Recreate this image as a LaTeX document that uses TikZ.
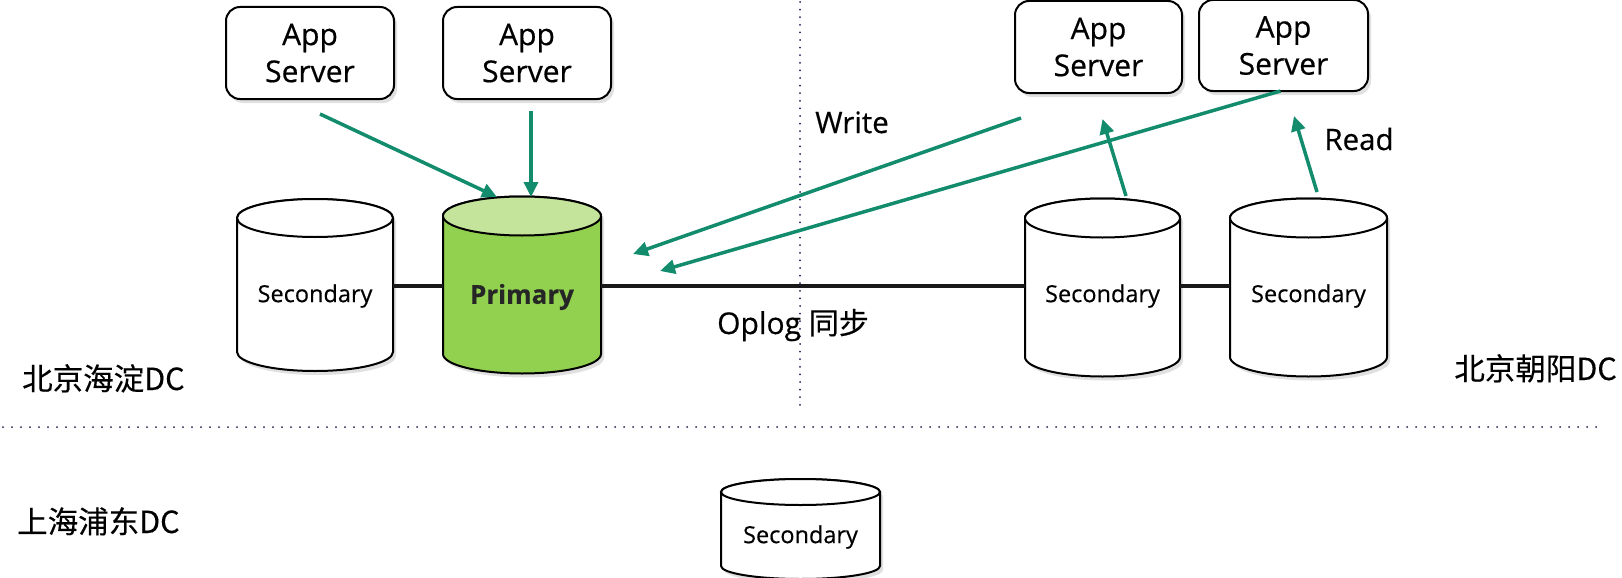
\documentclass[tikz,border=0pt]{standalone}
\usepackage{fontspec}
\setmainfont{Open Sans}[FakeBold=0.5]
\newfontfamily\cjk{Noto Sans CJK SC}[FakeBold=0.3]
\usetikzlibrary{arrows.meta,shadows}
\definecolor{arrgreen}{RGB}{18,140,108}
\definecolor{primbody}{RGB}{146,208,80}
\definecolor{primtop}{RGB}{196,228,155}
\definecolor{dotc}{RGB}{30,30,80}
\definecolor{linec}{RGB}{25,25,25}
% silhouette of a vertical cylinder: cx, y of top ellipse centre, y of bottom ellipse centre, rx, ry
\newcommand\cylpath[5]{({#1-#4},#2) -- ({#1-#4},#3) .. controls ({#1-#4},{#3+0.5523*#5}) and ({#1-0.5523*#4},{#3+#5}) .. (#1,{#3+#5}) .. controls ({#1+0.5523*#4},{#3+#5}) and ({#1+#4},{#3+0.5523*#5}) .. ({#1+#4},#3) -- ({#1+#4},#2) .. controls ({#1+#4},{#2-0.5523*#5}) and ({#1+0.5523*#4},{#2-#5}) .. (#1,{#2-#5}) .. controls ({#1-0.5523*#4},{#2-#5}) and ({#1-#4},{#2-0.5523*#5}) .. ({#1-#4},#2) -- cycle}
\newcommand\dbshape[7]{%
  \fill[black,opacity=.12,shift={(3,4)}] \cylpath{#1}{#2}{#3}{#4}{#5};
  \filldraw[fill=#6,draw=black,line width=2pt] \cylpath{#1}{#2}{#3}{#4}{#5};
  \filldraw[fill=#7,draw=black,line width=2pt] (#1,#2) ellipse [x radius=#4, y radius=#5];}
\begin{document}
\begin{tikzpicture}[x=1pt,y=-1pt,
  appbox/.style={draw=black, fill=white, line width=2pt, rounded corners=14pt,
    minimum width=168pt, minimum height=92pt, align=center, inner sep=0pt,
    font=\fontsize{30}{37}\selectfont,
    drop shadow={shadow xshift=3pt, shadow yshift=-4pt, opacity=.12, fill=black}},
  cyltext/.style={inner sep=0pt, outer sep=0pt, font=\fontsize{23.5}{28}\selectfont},
  lbl/.style={inner sep=0pt, font=\fontsize{29.5}{34}\selectfont},
  dclbl/.style={inner sep=0pt, font=\cjk\fontsize{30.5}{34}\selectfont},
  arr/.style={draw=arrgreen, line width=3.5pt, -{Triangle[length=15pt,width=14pt]}},
  oplog/.style={draw=linec, line width=3.5pt},
  dotline/.style={draw=dotc, line width=2pt, line cap=round}]
\useasboundingbox (0,0) rectangle (1622,578);

% dotted separators
\draw[dotline, dash pattern=on 0pt off 9pt] (3,427) -- (1598,427);
\draw[dotline, dash pattern=on 0pt off 7.6pt] (800,2) -- (800,405);

% App servers
\node[appbox] (app1) at (310,53) {App\\Server};
\node[appbox] (app2) at (527,53) {App\\Server};
\node[appbox, minimum width=167pt] (app3) at (1098.5,47) {App\\Server};
\node[appbox, minimum width=169pt, minimum height=91pt] (app4) at (1283.5,45.5) {App\\Server};

% cylinders
\dbshape{315}{218}{352}{78}{19}{white}{white}
\dbshape{522}{216}{354}{79}{19.5}{primbody}{primtop}
\dbshape{1102.5}{218}{357}{77.5}{19.5}{white}{white}
\dbshape{1308.5}{218}{357}{78.5}{19.5}{white}{white}
\dbshape{800.5}{492}{566}{79.5}{13}{white}{white}

\node[cyltext, minimum width=156pt] (sec1) at (315,296) {Secondary};
\node[cyltext, minimum width=158pt, font=\fontsize{26}{30}\selectfont\bfseries, text=black!85] (prim) at (522,297) {Primary};
\node[cyltext, minimum width=155pt] (sec3) at (1102.5,296) {Secondary};
\node[cyltext, minimum width=157pt] (sec4) at (1308.5,296) {Secondary};
\node[cyltext, minimum width=159pt] (sec5) at (800.5,537) {Secondary};
\coordinate (primtop) at (522,197);
\coordinate (sec3top) at (1102.5,199);
\coordinate (sec4top) at (1308.5,199);

% oplog sync lines
\draw[oplog] ([yshift=10pt]sec1.east) -- ([yshift=11pt]prim.west);
\draw[oplog] ([yshift=11pt]prim.east) -- ([yshift=10pt]sec3.west);
\draw[oplog] ([yshift=10pt]sec3.east) -- ([yshift=10pt]sec4.west);

% arrows
\draw[arr] ([xshift=10pt,yshift=-14pt]app1.south) -- ([xshift=-25pt]primtop);
\draw[arr] ([xshift=4pt,yshift=-11pt]app2.south) -- ([xshift=9pt]primtop);
\draw[arr] ([xshift=-77.5pt,yshift=-24pt]app3.south) -- ([xshift=32pt,yshift=43pt]prim.east);
\draw[arr] ([xshift=-3pt,yshift=1pt]app4.south) -- ([xshift=59pt,yshift=26pt]prim.east);
\draw[arr] ([xshift=23.5pt,yshift=3pt]sec3top) -- ([xshift=4pt,yshift=-25pt]app3.south);
\draw[arr] ([xshift=8.5pt,yshift=7pt]sec4top) -- ([xshift=10.5pt,yshift=-24pt]app4.south);

% labels
\node[lbl, anchor=base] (write) at (852,133) {Write};
\node[lbl, anchor=base] (read) at (1359,150) {Read};
\node[lbl, anchor=base, font=\fontsize{30}{34}\selectfont] (oplogtxt) at (793,334) {Oplog {\cjk 同步}};
\node[dclbl, anchor=base west] (dc1) at (22,390) {北京海淀DC};
\node[dclbl, anchor=base east] (dc2) at (1617,380) {北京朝阳DC};
\node[dclbl, anchor=base west] (dc3) at (17,533) {上海浦东DC};
\end{tikzpicture}
\end{document}
